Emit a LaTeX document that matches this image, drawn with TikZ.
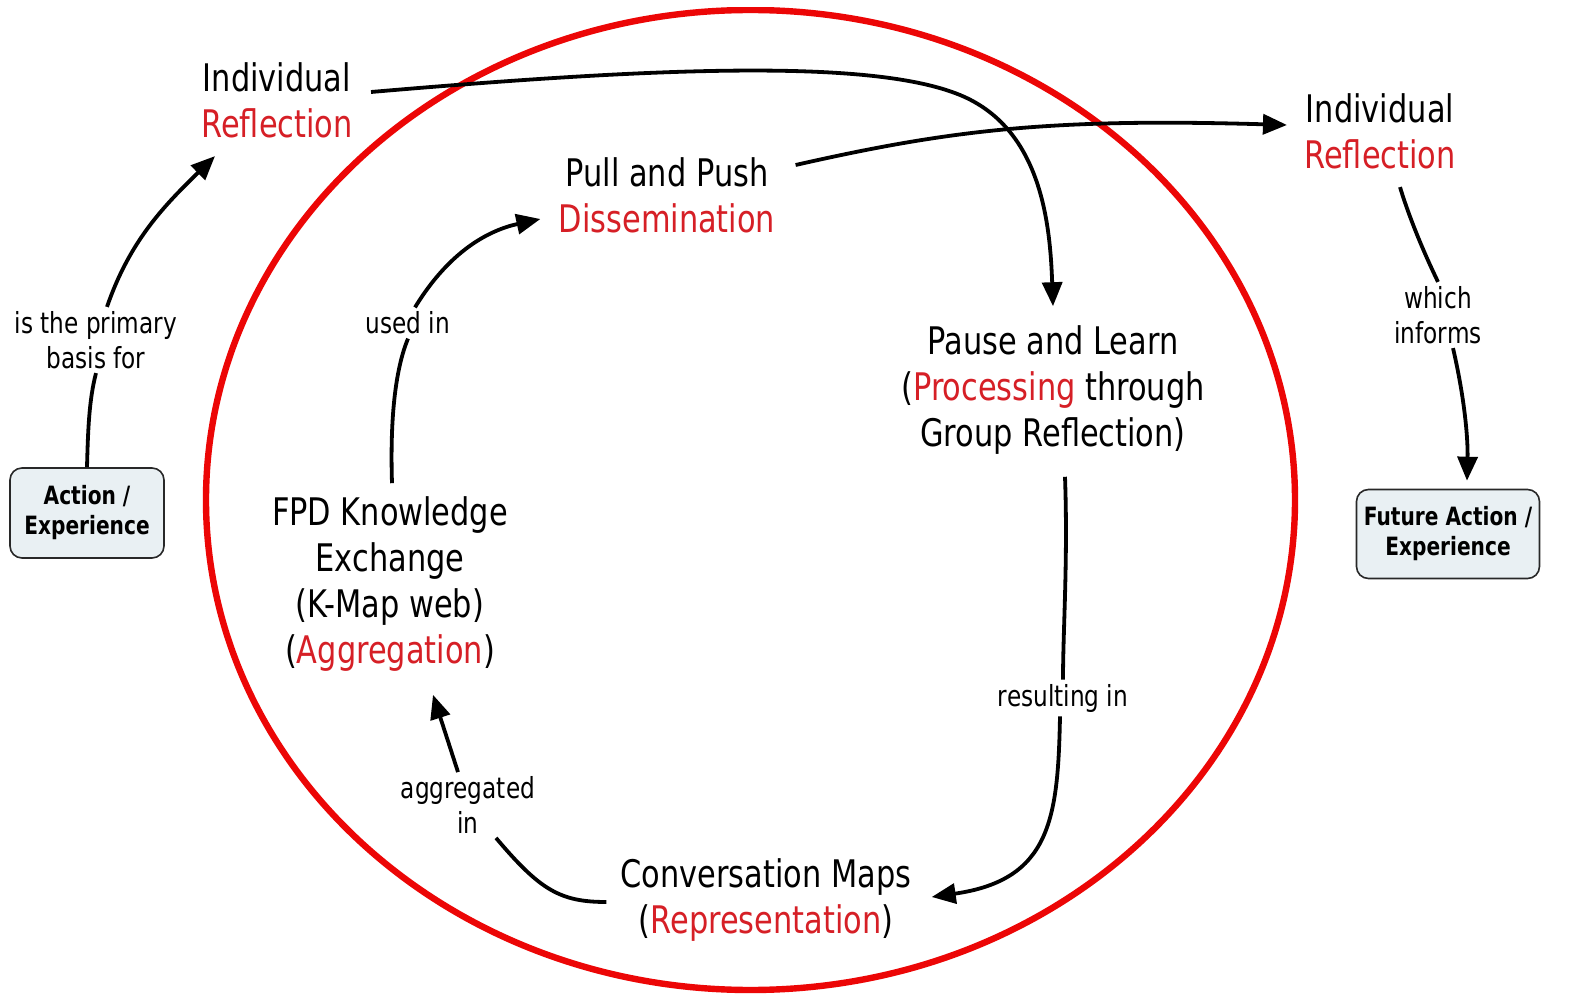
\documentclass[tikz,border=0pt]{standalone}
\usepackage{fontspec}
\setmainfont{DejaVu Sans}[FakeStretch=0.8]
\usetikzlibrary{arrows.meta,calc}
\definecolor{ringred}{RGB}{236,6,6}
\definecolor{keyred}{RGB}{214,31,38}
\definecolor{boxfill}{RGB}{233,240,243}
\definecolor{boxline}{RGB}{40,40,40}
\newcommand{\kw}[1]{\textcolor{keyred}{#1}}
\tikzset{
  concept/.style={inner sep=2pt, align=center, font=\fontsize{19pt}{23pt}\selectfont},
  linker/.style={inner sep=2pt, align=center, font=\fontsize{14.5pt}{17.5pt}\selectfont},
  actbox/.style={draw=boxline, fill=boxfill, line width=0.8pt, rounded corners=6pt,
    align=center, inner sep=3pt, font=\bfseries\fontsize{12.6pt}{15pt}\selectfont},
  conn/.style={line width=1.9pt, black},
  arr/.style={conn, -{Triangle[length=12pt,width=10pt]}},
  ring/.style={draw=ringred, line width=3.2pt}
}
\begin{document}
\begin{tikzpicture}[x=0.5pt,y=-0.5pt]
\useasboundingbox (0,0) rectangle (1571,1000);
\fill[white] (0,0) rectangle (1571,1000);

% the red cycle
\begin{scope}
  \clip (0,8) rectangle (1571,1000);
  \draw[ring] (750.5,500) ellipse [x radius=544.5, y radius=490];
\end{scope}

% concepts
\node[concept] (ir1) at (277,100) {Individual\\\kw{Reflection}};
\node[concept] (ir2) at (1380,131) {Individual\\\kw{Reflection}};
\node[concept] (pp)  at (667,195) {Pull and Push\\\kw{Dissemination}};
\node[concept] (pl)  at (1053,390) {Pause and Learn\\(\kw{Processing} through\\Group Reflection)};
\node[concept] (fpd) at (390,584) {FPD Knowledge\\Exchange\\(K-Map web)\\(\kw{Aggregation})};
\node[concept] (cm)  at (766,900) {Conversation Maps\\(\kw{Representation})};
\node[actbox, minimum width=77pt, minimum height=45pt] (act) at (87,513) {Action /\\Experience};
\node[actbox, minimum width=91.5pt, minimum height=44.5pt] (fut) at (1448,534) {Future Action /\\Experience};

% linking phrases
\node[linker] (l1) at (96,340)   {is the primary\\basis for};
\node[linker] (l2) at (408,323)  {used in};
\node[linker] (l3) at (1438,315) {which\\informs};
\node[linker] (l4) at (1063,698) {resulting in};
\node[linker] (l5) at (468,805)  {aggregated\\in};

% action -> reflection
\draw[conn] (act.north) .. controls (88,430) and (89,400) .. (l1.south);
\draw[arr] ($(l1.north)+(11,0)$) .. controls (130,240) and (165,205) .. ($(ir1.south west)+(18,14)$);

% reflection -> pause and learn
\draw[arr] ($(ir1.east)+(14,-8)$) .. controls (650,68) and (870,58) .. (960,95)
  .. controls (1040,128) and (1050,220) .. ($(pl.north)+(0,-15)$);

% dissemination -> next reflection
\draw[arr] ($(pp.east)+(16,-30)$) .. controls (950,130) and (1050,118) .. ($(ir2.west)+(-13,-6)$);

% next reflection -> future action
\draw[conn] ($(ir2.south)+(20,14)$) .. controls (1410,220) and (1425,255) .. (l3.north);
\draw[arr] ($(l3.south)+(15,0)$) .. controls (1465,400) and (1468,440) .. ($(fut.north)+(19,-8)$);

% pause and learn -> conversation maps
\draw[conn] ($(pl.south)+(12,18)$) .. controls (1068,560) and (1063,630) .. (l4.north);
\draw[arr] ($(l4.south)+(-3,0)$) .. controls (1058,820) and (1050,880) .. ($(cm.east)+(16,-3)$);

% conversation maps -> knowledge exchange
\draw[conn] ($(cm.west)+(-10,2)$) .. controls (560,902) and (540,890) .. ($(l5.south)+(28,0)$);
\draw[arr] ($(l5.north)+(-10,0)$) -- ($(fpd.south)+(43,19)$);

% knowledge exchange -> dissemination
\draw[conn] ($(fpd.north)+(2,-9)$) .. controls (390,420) and (395,370) .. (l2.south);
\draw[arr] ($(l2.north)+(7,0)$) .. controls (450,250) and (490,230) .. ($(pp.west)+(-14,24)$);
\end{tikzpicture}
\end{document}
